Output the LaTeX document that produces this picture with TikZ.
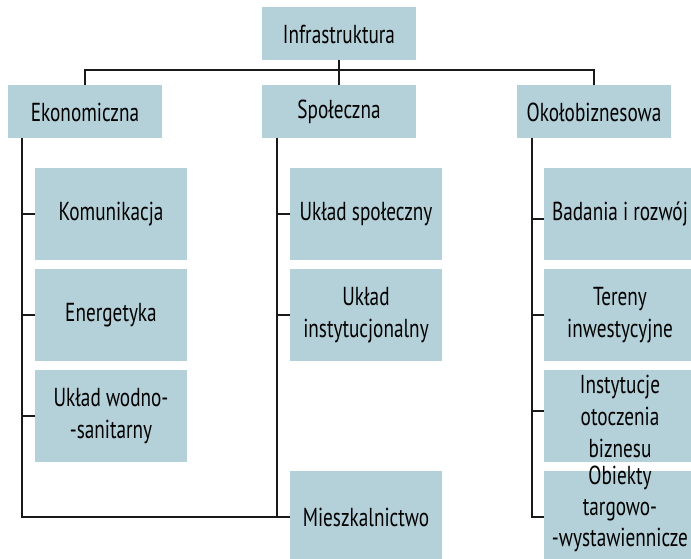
\documentclass[tikz,border=0pt]{standalone}
\usepackage{fontspec}
\setmainfont[FakeStretch=0.74]{PT Sans}
\definecolor{boxfill}{RGB}{180,208,216}
\definecolor{linec}{RGB}{25,25,25}
\tikzset{
  box/.style={fill=boxfill, draw=none, inner sep=0pt, outer sep=0pt, align=center,
    font=\fontsize{26}{32}\selectfont, text=black},
  topbox/.style={box, minimum width=154pt, minimum height=53pt},
  subbox/.style={box, minimum width=152pt, minimum height=92pt},
  plaintext/.style={inner sep=0pt, outer sep=0pt, align=center,
    font=\fontsize{26}{31}\selectfont, text=black},
  conn/.style={draw=linec, line width=1.4pt}
}
\begin{document}
\begin{tikzpicture}[x=1pt,y=-1pt]
\clip (0,0) rectangle (691,559);
\fill[white] (0,0) rectangle (691,559);
% top level
\node[topbox] (T) at (339,34) {Infrastruktura};
\node[topbox] (E) at (85,112) {Ekonomiczna};
\node[topbox] (S) at (339,112) {Społeczna};
\node[topbox] (O) at (594,112) {Okołobiznesowa};
% Ekonomiczna children
\node[subbox] (E1) at (111,214) {Komunikacja};
\node[subbox] (E2) at (111,315) {Energetyka};
\node[subbox] (E3) at (111,416) {Układ wodno-\\-sanitarny};
% Społeczna children
\node[subbox] (S1) at (366,214) {Układ społeczny};
\node[subbox] (S2) at (366,315) {Układ\\instytucjonalny};
\node[subbox] (S3) at (366,517) {Mieszkalnictwo};
% Okołobiznesowa children
\node[subbox] (O1) at (620,214) {Badania i rozwój};
\node[subbox] (O2) at (620,315) {Tereny\\inwestycyjne};
\node[subbox] (O3) at (620,416) {Instytucje\\otoczenia\\biznesu};
\node[subbox] (O4) at (620,517) {};
\node[plaintext] (O4t) at (620,509) {Obiekty\\targowo-\\-wystawiennicze};
% coordinates
\coordinate (barL) at (85,70);
\coordinate (barR) at (594,70);
\coordinate (eS) at (22,138);
\coordinate (sS) at (277,138);
\coordinate (oS) at (532,138);
% connectors
\draw[conn] (T.south) -- (S.north);
\draw[conn] (E.north) -- (barL) -- (barR) -- (O.north);
\draw[conn] (eS) |- (S3.west);
\draw[conn] (sS) |- (S3.west);
\draw[conn] (oS) |- (O4.west);
\draw[conn] (E1.west) -- (E1.west -| eS);
\draw[conn] (E2.west) -- (E2.west -| eS);
\draw[conn] (E3.west) -- (E3.west -| eS);
\draw[conn] (S1.west) -- (S1.west -| sS);
\draw[conn] (S2.west) -- (S2.west -| sS);
\draw[conn] ([yshift=-5pt]O1.west) -- ([yshift=-5pt]O1.west -| oS);
\draw[conn] (O2.west) -- (O2.west -| oS);
\draw[conn] ([yshift=5pt]O3.west) -- ([yshift=5pt]O3.west -| oS);
\end{tikzpicture}
\end{document}
